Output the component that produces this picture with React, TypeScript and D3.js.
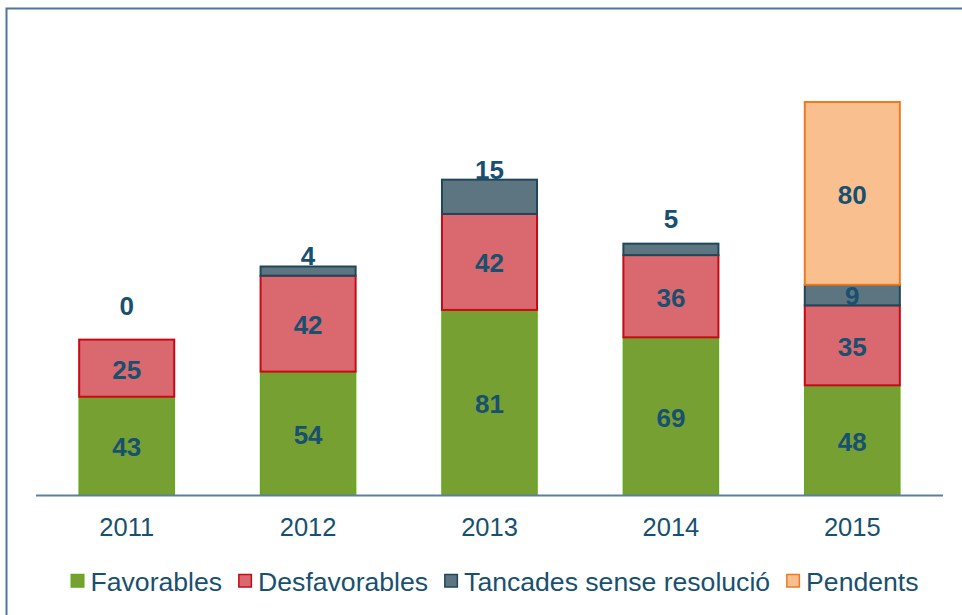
import React, { useEffect, useRef } from "react";
import * as d3 from "d3";

const years = ["2011", "2012", "2013", "2014", "2015"];
const seriesNames = ["Favorables", "Desfavorables", "Tancades sense resolució", "Pendents"];
const favorables = [43, 54, 81, 69, 48];
const desfavorables = [25, 42, 42, 36, 35];
const tancades = [0, 4, 15, 5, 9];
const pendents = [0, 0, 0, 0, 80];
// pixel lift of the "Tancades" label when it sits above the bar
const topLabelLift = [34, 11, 10, 25, 0];

const fills = ["#77a033", "#d9686f", "#5d7580", "#f9bf8f"];
const strokes = ["#64a81c", "#c80a14", "#20465a", "#ee7a22"];
const textColor = "#18506f";
const font = "'Liberation Sans', Arial, sans-serif";

export default function App() {
  const ref = useRef<SVGSVGElement>(null);

  useEffect(() => {
    const svg = d3.select(ref.current);
    svg.selectAll("*").remove();
    const left = 36, right = 943, base = 495;

    svg.append("rect")
      .attr("x", 6.5).attr("y", 8.5).attr("width", 1000).attr("height", 1000)
      .attr("fill", "white").attr("stroke", "#4e74a0").attr("stroke-width", 2);

    const x = d3.scaleBand<string>().domain(years).range([left, right])
      .paddingInner(0.476).paddingOuter(0.238);
    const y = d3.scaleLinear().domain([0, 180]).range([base, base - 180 * 2.285]);

    const data = years.map((yr, i) => ({
      year: yr,
      vals: [favorables[i], desfavorables[i], tancades[i], pendents[i]],
    }));

    const g = svg.append("g");
    data.forEach((d, i) => {
      let acc = 0;
      const hasPend = d.vals[3] > 0;
      d.vals.forEach((v, s) => {
        const y0 = acc, y1 = acc + v;
        acc = y1;
        const bx = x(d.year)!;
        const bw = x.bandwidth();
        if (v > 0) {
          g.append("rect")
            .attr("x", bx).attr("y", y(y1))
            .attr("width", bw).attr("height", y(y0) - y(y1))
            .attr("fill", fills[s]).attr("stroke", strokes[s])
            .attr("stroke-width", s === 0 ? 1.5 : 2);
        }
        if (s === 3 && !hasPend) return;
        let ly: number;
        if (s === 2 && !hasPend) {
          ly = y(y1) - topLabelLift[i];
        } else {
          ly = (y(y0) + y(y1)) / 2 + 1;
        }
        g.append("text")
          .attr("x", bx + bw / 2).attr("y", ly)
          .attr("dy", "0.36em")
          .attr("text-anchor", "middle")
          .attr("font-family", font).attr("font-weight", "bold")
          .attr("font-size", 26).attr("fill", textColor)
          .text(String(v));
      });
    });

    svg.append("line")
      .attr("x1", left).attr("x2", right).attr("y1", base + 0.5).attr("y2", base + 0.5)
      .attr("stroke", "#5f7f9f").attr("stroke-width", 2);

    const axis = svg.append("g");
    years.forEach((yr) => {
      axis.append("text")
        .attr("x", x(yr)! + x.bandwidth() / 2).attr("y", 527)
        .attr("dy", "0.36em").attr("text-anchor", "middle")
        .attr("font-family", font).attr("font-size", 25.5).attr("fill", textColor)
        .text(yr);
    });

    // legend
    const lg = svg.append("g");
    const sq = 14, gapText = 6, gapItem = 16;
    let cx = 0;
    seriesNames.forEach((name, s) => {
      lg.append("rect")
        .attr("x", cx + 0.75).attr("y", 581.5 - sq / 2)
        .attr("width", sq - 1.5).attr("height", sq - 1.5)
        .attr("fill", fills[s]).attr("stroke", strokes[s]).attr("stroke-width", 1.5);
      const t = lg.append("text")
        .attr("x", cx + sq + gapText).attr("y", 581)
        .attr("dy", "0.36em")
        .attr("font-family", font).attr("font-size", 26.6).attr("fill", textColor)
        .text(name);
      const w = (t.node() as SVGTextElement).getComputedTextLength();
      cx += sq + gapText + w + gapItem;
    });
    const total = cx - gapItem;
    lg.attr("transform", `translate(${494.5 - total / 2},0)`);
  }, []);

  return (
    <svg ref={ref} width={962} height={615}
      style={{ position: "absolute", left: 0, top: 0, display: "block", background: "white" }} />
  );
}
